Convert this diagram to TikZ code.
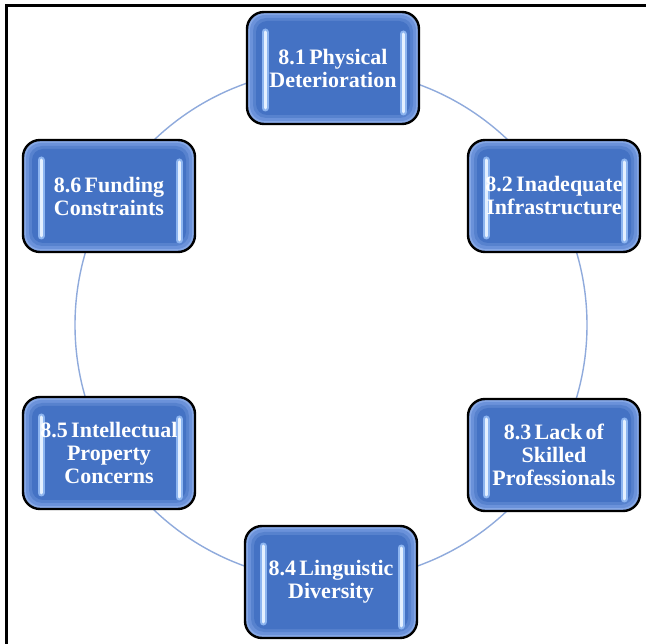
\documentclass[tikz,border=0pt]{standalone}
\usepackage{fontspec}
\newfontfamily\issuefamily[WordSpace=0.6]{Liberation Serif}
\usetikzlibrary{calc}

\definecolor{ringblue}{HTML}{8FAADC}
\definecolor{boxedge}{HTML}{86A8E6}
\definecolor{boxmidA}{HTML}{6B92DA}
\definecolor{boxmidB}{HTML}{5782CE}
\definecolor{boxcore}{HTML}{4472C4}
\definecolor{barglow}{HTML}{8DB5F0}
\definecolor{barlight}{HTML}{E4F0FF}

\tikzset{
  issue/.style={
    rounded corners=17pt, draw=black, line width=2.4pt, fill=boxedge,
    minimum width=172pt, minimum height=112pt, inner sep=0pt,
    align=center, text=white,
    font=\issuefamily\bfseries\fontsize{22}{23}\selectfont,
    path picture={
      \coordinate (pa) at (path picture bounding box.south west);
      \coordinate (pb) at (path picture bounding box.north east);
      % glossy inner glow: nested rounded panels getting darker inward
      \fill[boxmidA, rounded corners=15pt] ($(pa)+(3,-3)$) rectangle ($(pb)+(-3,3)$);
      \fill[boxmidB, rounded corners=13pt] ($(pa)+(6,-6)$) rectangle ($(pb)+(-6,6)$);
      \fill[boxcore, rounded corners=11pt] ($(pa)+(9,-9)$) rectangle ($(pb)+(-9,9)$);
      % vertical highlight bars with a soft halo
      \foreach \w/\c in {7pt/barglow, 3pt/barlight} {
        \draw[\c, line width=\w, line cap=round]
          ($(pa)+(18,-16)$) -- ($(pa |- pb)+(18,20)$);
        \draw[\c, line width=\w, line cap=round]
          ($(pb)+(-16,22)$) -- ($(pb |- pa)+(-16,-12)$);
      }
    }
  },
  ring/.style={draw=ringblue, line width=1.4pt}
}

\begin{document}
\begin{tikzpicture}[x=1pt,y=-1pt]
  \useasboundingbox (0,0) rectangle (646,644);
  \fill[white] (0,0) rectangle (646,644);

  % frame on the top and left edges
  \draw[line width=2.6pt] (6.5,644) -- (6.5,5.5) -- (646,5.5);

  % ring joining the six issues
  \coordinate (hub) at (331,325);
  \draw[ring] (hub) circle[radius=256];

  \node[issue] (p1) at (333,68)  {8.1 Physical\\Deterioration};
  \node[issue] (p2) at (554,196) {8.2 Inadequate\\Infrastructure};
  \node[issue] (p3) at (554,455) {8.3 Lack of\\Skilled\\Professionals};
  \node[issue] (p4) at (331,582) {8.4 Linguistic\\Diversity};
  \node[issue] (p5) at (109,453) {8.5 Intellectual\\Property\\Concerns};
  \node[issue] (p6) at (109,196) {8.6 Funding\\Constraints};
\end{tikzpicture}
\end{document}
